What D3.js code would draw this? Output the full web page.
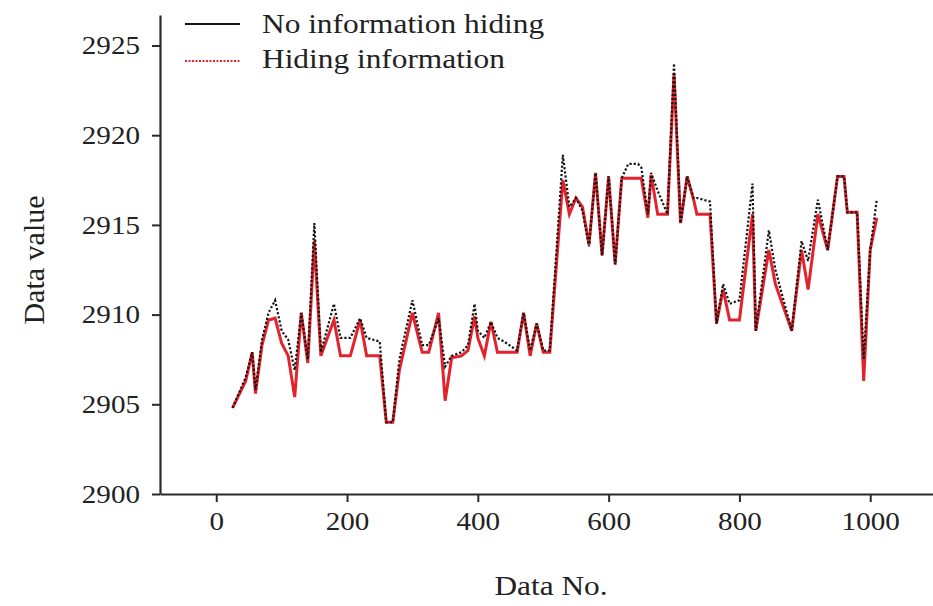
<!DOCTYPE html>
<html>
<head>
<meta charset="utf-8">
<script src="https://cdn.jsdelivr.net/npm/d3@7"></script>
<style>
  body { margin: 0; background: #fff; }
  text { font-family: "Liberation Serif", "Times New Roman", serif; fill: #222; }
</style>
</head>
<body>
<svg id="chart" width="933" height="606"></svg>
<script>
// Sample numbers along the x axis
const dataNo = [
  25, 45, 55, 60, 70, 80, 90, 100, 110, 120,
  130, 140, 150, 160, 180, 190, 205, 220, 230, 250,
  260, 270, 280, 300, 310, 315, 325, 340, 350, 360,
  375, 385, 395, 400, 410, 420, 430, 440, 460, 470,
  480, 490, 500, 510, 530, 540, 550, 560, 570, 580,
  590, 600, 610, 620, 630, 645, 650, 660, 665, 675,
  690, 700, 710, 720, 730, 735, 755, 765, 775, 785,
  800, 820, 825, 845, 855, 880, 895, 905, 920, 935,
  950, 960, 965, 980, 990, 1000, 1010
];

// Original data (no information hiding)
const plainValues = [
  2904.8, 2906.5, 2907.9, 2905.8, 2908.6, 2910.1, 2910.8, 2909.1, 2908.6, 2906.9,
  2910.1, 2907.5, 2915.1, 2907.9, 2910.6, 2908.7, 2908.7, 2909.8, 2908.7, 2908.5,
  2904.0, 2904.0, 2907.5, 2910.8, 2909.1, 2908.3, 2908.3, 2909.8, 2907.1, 2907.7,
  2907.9, 2908.3, 2910.6, 2909.1, 2908.7, 2909.6, 2908.7, 2908.5, 2908.0, 2910.1,
  2908.0, 2909.5, 2908.0, 2908.0, 2918.9, 2916.0, 2916.5, 2915.8, 2913.8, 2917.9,
  2913.3, 2917.7, 2912.8, 2917.6, 2918.4, 2918.4, 2918.2, 2915.6, 2917.9, 2916.9,
  2915.6, 2924.0, 2915.1, 2917.7, 2916.5, 2916.5, 2916.3, 2909.5, 2911.7, 2910.6,
  2910.8, 2917.3, 2909.1, 2914.7, 2912.5, 2909.1, 2914.1, 2913.0, 2916.4, 2913.6,
  2917.7, 2917.7, 2915.7, 2915.7, 2907.5, 2913.6, 2916.4
];

// Data carrying hidden information
const hiddenValues = [
  2904.8, 2906.3, 2907.9, 2905.6, 2908.3, 2909.7, 2909.8, 2908.4, 2907.7, 2905.4,
  2910.1, 2907.3, 2914.1, 2907.7, 2909.7, 2907.7, 2907.7, 2909.7, 2907.7, 2907.7,
  2904.0, 2904.0, 2906.9, 2910.1, 2908.6, 2907.9, 2907.9, 2910.1, 2905.2, 2907.6,
  2907.7, 2908.0, 2909.9, 2908.7, 2907.7, 2909.6, 2907.9, 2907.9, 2907.9, 2910.1,
  2907.7, 2909.5, 2907.9, 2907.9, 2917.5, 2915.6, 2916.5, 2916.0, 2913.9, 2917.9,
  2913.3, 2917.7, 2912.8, 2917.6, 2917.6, 2917.6, 2917.6, 2915.4, 2917.8, 2915.6,
  2915.6, 2923.4, 2915.1, 2917.7, 2916.4, 2915.6, 2915.6, 2909.5, 2911.4, 2909.7,
  2909.7, 2915.6, 2909.1, 2913.6, 2911.7, 2909.1, 2913.6, 2911.4, 2915.6, 2913.6,
  2917.7, 2917.7, 2915.7, 2915.7, 2906.3, 2913.6, 2915.4
];

const xTicks = [0, 200, 400, 600, 800, 1000];
const yTicks = [2900, 2905, 2910, 2915, 2920, 2925];
const seriesNames = ["No information hiding", "Hiding information"];

const SX = 1.12;          // horizontal widening of the serif lettering
const FONT = 26;

const svg = d3.select("#chart");

const x = d3.scaleLinear().domain([-86, 1096]).range([160, 933]);
const y = d3.scaleLinear().domain([2900, 2926.7]).range([494, 15]);

// widen a text selection horizontally, keeping its anchor point
function widen(sel) {
  sel.each(function () {
    const t = d3.select(this);
    const x0 = +t.attr("x") || 0;
    t.attr("x", x0 / SX).attr("transform", `scale(${SX},1)`);
  });
}

// Axes
const xAxis = d3.axisBottom(x).tickValues(xTicks).tickSizeInner(8).tickSizeOuter(0).tickPadding(10).tickFormat(d3.format("d"));
const yAxis = d3.axisLeft(y).tickValues(yTicks).tickSizeInner(8).tickSizeOuter(0).tickPadding(12).tickFormat(d3.format("d"));

const gx = svg.append("g").attr("transform", `translate(0,${y(2900)})`).call(xAxis);
const gy = svg.append("g").attr("transform", `translate(${x(-86)},0)`).call(yAxis);

[gx, gy].forEach(g => {
  g.select(".domain").attr("stroke", "#2a2a2a").attr("stroke-width", 2.2);
  g.selectAll(".tick line").attr("stroke", "#2a2a2a").attr("stroke-width", 2);
  g.selectAll(".tick text")
    .attr("font-size", FONT)
    .attr("fill", "#222");
});
widen(gx.selectAll(".tick text"));
widen(gy.selectAll(".tick text"));

// Series
const pts = dataNo.map((d, i) => ({ n: d, plain: plainValues[i], hidden: hiddenValues[i] }));

const lineHidden = d3.line().x(d => x(d.n)).y(d => y(d.hidden));
const linePlain = d3.line().x(d => x(d.n)).y(d => y(d.plain));

svg.append("path")
  .datum(pts)
  .attr("d", lineHidden)
  .attr("fill", "none")
  .attr("stroke", "#e3232c")
  .attr("stroke-width", 3);

svg.append("path")
  .datum(pts)
  .attr("d", linePlain)
  .attr("fill", "none")
  .attr("stroke", "#141414")
  .attr("stroke-width", 2.2)
  .attr("stroke-dasharray", "2.2,2");

// Axis titles
svg.append("text")
  .attr("x", 551 / SX).attr("y", 595)
  .attr("transform", `scale(${SX},1)`)
  .attr("text-anchor", "middle")
  .attr("font-size", 28)
  .text("Data No.");

svg.append("text")
  .attr("transform", "translate(33,260) rotate(-90)")
  .attr("text-anchor", "middle")
  .attr("dy", "0.35em")
  .attr("font-size", 30)
  .text("Data value");

// Legend
const legend = svg.append("g");
legend.append("line")
  .attr("x1", 185).attr("x2", 240).attr("y1", 24).attr("y2", 24)
  .attr("stroke", "#141414").attr("stroke-width", 2.2);
legend.append("line")
  .attr("x1", 185).attr("x2", 240).attr("y1", 61).attr("y2", 61)
  .attr("stroke", "#e3232c").attr("stroke-width", 1.8)
  .attr("stroke-dasharray", "2,1.5");
legend.selectAll("text.lab")
  .data(seriesNames)
  .join("text")
  .attr("class", "lab")
  .attr("x", 262 / SX)
  .attr("y", (d, i) => 33 + i * 35)
  .attr("transform", `scale(${SX},1)`)
  .attr("font-size", 28)
  .text(d => d);
</script>
</body>
</html>
